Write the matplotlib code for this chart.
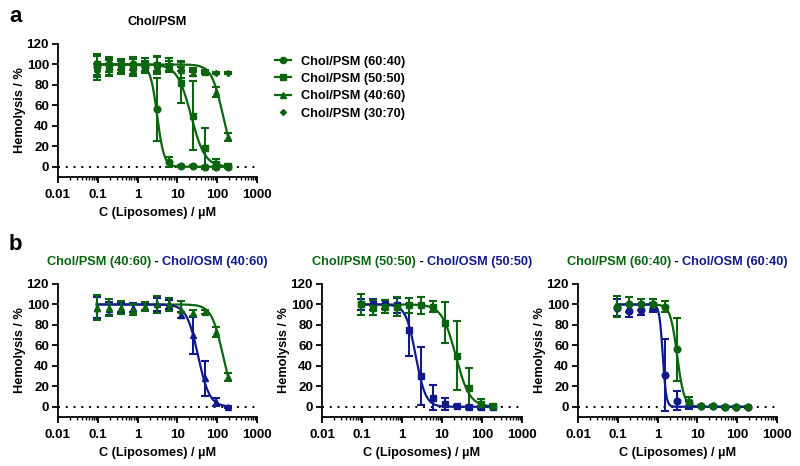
import numpy as np
import matplotlib
matplotlib.use('Agg')
import matplotlib.pyplot as plt
from matplotlib import font_manager as fm
from matplotlib.ticker import FixedLocator, FixedFormatter, LogLocator, NullFormatter
from matplotlib.lines import Line2D

fm.fontManager.ttflist = [f for f in fm.fontManager.ttflist if 'Narrow' not in f.fname]
try:
    fm.fontManager._findfont_cached.cache_clear()
except Exception:
    pass

plt.rcParams['font.family'] = ['Liberation Sans', 'DejaVu Sans']
plt.rcParams['font.weight'] = 'bold'
plt.rcParams['axes.labelweight'] = 'bold'

GREEN = '#0b650f'
BLUE = '#101a8c'

# ---------------- data ----------------
conc = [0.09375, 0.1875, 0.375, 0.75, 1.5, 3, 6, 12, 24, 48, 96, 192]

psm_6040_mean = [98, 100, 100, 100, 98, 56, 5, 1, 0.5, 0, 0, 0]
psm_6040_sd = [10, 7, 5, 5, 5, 31, 5, 1, 1, 1, 1, 1]
psm_5050_mean = [100, 97, 98, 98, 99, 99, 98, 82, 50, 18, 3, 1]
psm_5050_sd = [10, 7, 6, 9, 7, 8, 5, 20, 34, 20, 5, 2]
psm_4060_mean = [97, 97, 97, 95, 98, 100, 100, 95, 92, 93, 73, 29]
psm_4060_sd = [12, 8, 6, 5, 4, 8, 6, 8, 3, 2, 5, 4]
psm_3070_mean = [94, 95, 96, 95, 96, 97, 97, 96, 95, 94, 92, 92]
psm_3070_sd = [6, 5, 4, 4, 3, 3, 3, 2, 2, 1, 1, 1]

osm_4060_mean = [97, 96, 97, 97, 98, 100, 100, 90, 70, 28, 5, 0]
osm_4060_sd = [10, 6, 4, 4, 3, 6, 4, 3, 18, 17, 4, 1]
osm_5050_mean = [100, 100, 100, 99, 75, 30, 9, 3, 1, 0, 0, 0]
osm_5050_sd = [5, 5, 4, 7, 25, 28, 12, 6, 1, 1, 1, 1]
osm_6040_mean = [97, 94, 95, 97, 31, 6, 2, 1, 1, 0, 0, 0]
osm_6040_sd = [8, 6, 5, 4, 35, 9, 4, 1, 1, 1, 1, 1]

# fitted dose-response parameters (IC50, Hill slope)
fit_psm_6040 = (3.1, 5.0)
fit_psm_5050 = (22.0, 2.5)
fit_psm_4060 = (140.0, 3.0)
fit_osm_4060 = (33.0, 3.0)
fit_osm_5050 = (2.2, 3.5)
fit_osm_6040 = (1.35, 10.0)

xtick_vals = [0.01, 0.1, 1, 10, 100, 1000]
xtick_labels = ['0.01', '0.1', '1', '10', '100', '1000']
ytick_vals = [0, 20, 40, 60, 80, 100, 120]

FS = 9.2
TFS = 9.6


def curve(ax, params, color):
    ic50, h = params
    xs = np.logspace(np.log10(conc[0]), np.log10(conc[-1]), 400)
    ys = 100.0 / (1.0 + (xs / ic50) ** h)
    ax.plot(xs, ys, color=color, lw=1.6, zorder=3)


def points(ax, mean, sd, color, marker, ms=4.8, label=None):
    ax.errorbar(conc, mean, yerr=sd, fmt=marker, color=color, ms=ms,
                ecolor=color, elinewidth=1.5, capsize=3, capthick=1.5,
                zorder=4, label=label)


def style(ax):
    ax.set_xscale('log')
    ax.set_xlim(0.01, 1000)
    ax.set_ylim(-10, 120)
    ax.spines['top'].set_visible(False)
    ax.spines['right'].set_visible(False)
    for s in ('left', 'bottom'):
        ax.spines[s].set_linewidth(1.3)
    ax.xaxis.set_major_locator(FixedLocator(xtick_vals))
    ax.xaxis.set_major_formatter(FixedFormatter(xtick_labels))
    ax.xaxis.set_minor_locator(LogLocator(base=10, subs=np.arange(2, 10), numticks=20))
    ax.xaxis.set_minor_formatter(NullFormatter())
    ax.yaxis.set_major_locator(FixedLocator(ytick_vals))
    ax.tick_params(axis='both', which='major', labelsize=TFS, width=1.3, length=4,
                   direction='out')
    ax.tick_params(axis='x', which='major', pad=4.5)
    ax.tick_params(axis='y', which='major', pad=2.5)
    ax.tick_params(axis='x', which='minor', width=1.0, length=2.5, direction='out')
    for lab in ax.get_xticklabels() + ax.get_yticklabels():
        lab.set_fontweight('bold')
    ax.axhline(0, color='black', lw=1.4, ls=(0, (1, 3)), zorder=1)
    ax.set_xlabel('C (Liposomes) / µM', fontsize=FS, fontweight='bold', labelpad=4.5)
    ax.set_ylabel('Hemolysis / %', fontsize=FS, fontweight='bold', labelpad=0.5)


W, H = 800, 466
fig = plt.figure(figsize=(8, 4.66), dpi=100)


def rect(x0, y0, x1, y1):
    return [x0 / W, 1 - y1 / H, (x1 - x0) / W, (y1 - y0) / H]


# ---------------- panel a ----------------
axa = fig.add_axes(rect(58, 44, 257, 177))
style(axa)
curve(axa, fit_psm_6040, GREEN)
curve(axa, fit_psm_5050, GREEN)
curve(axa, fit_psm_4060, GREEN)
points(axa, psm_6040_mean, psm_6040_sd, GREEN, 'o')
points(axa, psm_5050_mean, psm_5050_sd, GREEN, 's')
points(axa, psm_4060_mean, psm_4060_sd, GREEN, '^')
points(axa, psm_3070_mean, psm_3070_sd, GREEN, 'D', ms=3)
axa.set_title('Chol/PSM', fontsize=FS, fontweight='bold', pad=14)

handles = [
    Line2D([], [], color=GREEN, lw=1.6, marker='o', ms=4.5),
    Line2D([], [], color=GREEN, lw=1.6, marker='s', ms=4.5),
    Line2D([], [], color=GREEN, lw=1.6, marker='^', ms=4.5),
    Line2D([], [], color=GREEN, lw=0, marker='D', ms=3),
]
labels = ['Chol/PSM (60:40)', 'Chol/PSM (50:50)', 'Chol/PSM (40:60)', 'Chol/PSM (30:70)']
fig.legend(handles, labels, loc='upper left', bbox_to_anchor=(263 / W, 1 - 44 / H),
           frameon=False, handlelength=1.3, handletextpad=0.8,
           labelspacing=0.42, prop={'weight': 'bold', 'size': FS})

# ---------------- panel b ----------------
panels_b = [
    (58, 257, '40:60', fit_psm_4060, psm_4060_mean, psm_4060_sd,
     fit_osm_4060, osm_4060_mean, osm_4060_sd, '^'),
    (322, 522, '50:50', fit_psm_5050, psm_5050_mean, psm_5050_sd,
     fit_osm_5050, osm_5050_mean, osm_5050_sd, 's'),
    (578, 777, '60:40', fit_psm_6040, psm_6040_mean, psm_6040_sd,
     fit_osm_6040, osm_6040_mean, osm_6040_sd, 'o'),
]

axes_b = []
for (x0, x1, ratio, fp, pm, ps, fo, om, osd, mk) in panels_b:
    ax = fig.add_axes(rect(x0, 284, x1, 417))
    style(ax)
    curve(ax, fp, GREEN)
    curve(ax, fo, BLUE)
    points(ax, om, osd, BLUE, mk)
    points(ax, pm, ps, GREEN, mk)
    axes_b.append((ax, ratio))

fig.text(9 / W, 1 - 17 / H, 'a', fontsize=16, fontweight='bold', va='center', ha='left')
fig.text(9 / W, 1 - 245 / H, 'b', fontsize=16, fontweight='bold', va='center', ha='left')

# multi-coloured titles
fig.canvas.draw()
renderer = fig.canvas.get_renderer()
for ax, ratio in axes_b:
    parts = [('Chol/PSM (%s)' % ratio, GREEN), (' - ', 'black'), ('Chol/OSM (%s)' % ratio, BLUE)]
    texts = []
    for s, c in parts:
        t = fig.text(0, 1 - 262 / H, s, color=c, fontsize=FS, fontweight='bold', va='center', ha='left')
        texts.append(t)
    widths = [t.get_window_extent(renderer).width for t in texts]
    total = sum(widths)
    bb = ax.get_position()
    cx = (bb.x0 + bb.x1) / 2 * W
    start = cx - total / 2
    for t, w in zip(texts, widths):
        t.set_x(start / W)
        start += w

fig.savefig('out.png', dpi=100)
